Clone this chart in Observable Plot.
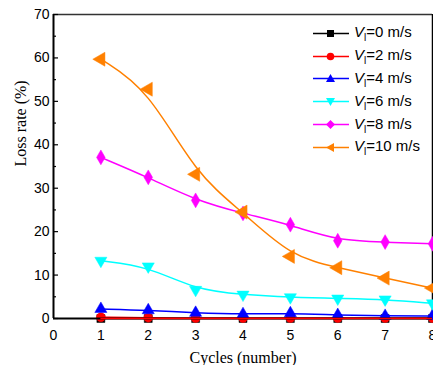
<!DOCTYPE html>
<html>
<head>
<meta charset="utf-8">
<script src="https://cdn.jsdelivr.net/npm/d3@7"></script>
<script src="https://cdn.jsdelivr.net/npm/@observablehq/plot@0.6"></script>
<style>
  html, body { margin: 0; padding: 0; background: #fff; }
  #wrap { position: relative; width: 433px; height: 365px; }
  #legend { position: absolute; left: 313px; top: 22px; font-family: "Liberation Sans", Arial, sans-serif; font-size: 15px; color: #000; }
  .row { height: 22.8px; display: flex; align-items: center; }
  .row svg { margin-right: 5px; }
  sub { font-size: 10px; font-style: normal; vertical-align: -4px; }
</style>
</head>
<body>
<div id="wrap"><div id="chart"></div><div id="legend"></div></div>
<script>
const cycles = [1, 2, 3, 4, 5, 6, 7, 8];
const speeds = ["0", "2", "4", "6", "8", "10"];
const colors = ["#000000", "#ff0000", "#0000ff", "#00ffff", "#ff00ff", "#ff8000"];
const symbols = ["square", "circle", "triangle", "triangle", "diamond", "triangle"];
const rotations = [0, 0, 0, 180, 0, -90];
const v0 = [0.0, 0.0, 0.0, 0.0, 0.0, 0.0, 0.0, 0.0];
const v2 = [0.3, 0.2, 0.1, 0.1, 0.1, 0.1, 0.1, 0.1];
const v4 = [2.2, 1.9, 1.3, 1.0, 1.2, 0.8, 0.6, 0.6];
const v6 = [13.3, 12.0, 6.6, 5.5, 4.9, 4.6, 4.4, 3.5];
const v8 = [37.1, 32.5, 27.2, 24.2, 21.6, 17.9, 17.6, 17.2];
const v10 = [59.7, 52.8, 33.2, 24.5, 14.3, 11.7, 9.3, 7.0];
const seriesValues = [v0, v2, v4, v6, v8, v10];
const yTicks = [0, 10, 20, 30, 40, 50, 60, 70];
const yMinor = [5, 15, 25, 35, 45, 55, 65];
const xTicks = [0, 1, 2, 3, 4, 5, 6, 7, 8];

const data = [];
seriesValues.forEach((vals, si) => {
  vals.forEach((v, i) => data.push({series: si, speed: speeds[si], x: cycles[i], y: v}));
});

const marks = [];
seriesValues.forEach((vals, si) => {
  const d = data.filter(p => p.series === si);
  marks.push(Plot.line(d, {x: "x", y: "y", curve: "basis", stroke: colors[si], strokeWidth: 1.5}));
  marks.push(Plot.dot(d, {x: "x", y: "y", symbol: () => symbols[si], fill: colors[si], stroke: colors[si], strokeWidth: 0.5, r: si === 5 ? 5.2 : 4.5, rotate: rotations[si]}));
});

const chart = Plot.plot({
  width: 433,
  height: 365,
  marginLeft: 53,
  marginRight: 1,
  marginTop: 14,
  marginBottom: 47,
  style: {fontFamily: "'Liberation Sans', Arial, sans-serif", fontSize: "13px", color: "#000", background: "#fff"},
  x: {type: "linear", domain: [0, 8], label: null, ticks: []},
  y: {type: "linear", domain: [0, 70], label: null, ticks: []},
  symbol: {type: "identity"},
  marks: [
    Plot.ruleY([70], {stroke: "#333", strokeWidth: 1.5}),
    Plot.ruleX([8], {stroke: "#000", strokeWidth: 1.5}),
    ...marks,
    Plot.axisY(yTicks, {tickSize: -5, tickPadding: 9, stroke: "#000", fontSize: 14, strokeWidth: 1.2}),
    Plot.axisY(yMinor, {tickSize: -3, text: null, stroke: "#000", strokeWidth: 1.2}),
    Plot.axisX(xTicks, {tickSize: 0, tickPadding: 12, fontSize: 14}),
    Plot.ruleX([0], {stroke: "#000", strokeWidth: 2}),
    Plot.ruleY([0], {stroke: "#000", strokeWidth: 2}),
    Plot.ruleY([0], {x1: 1, x2: 8, stroke: colors[1], strokeWidth: 1.5}),
    Plot.text(["Cycles (number)"], {frameAnchor: "bottom", dy: 44, fontFamily: "'Liberation Serif', 'Times New Roman', serif", fontSize: 16}),
    Plot.text(["Loss rate (%)"], {frameAnchor: "left", dx: -33, rotate: -90, fontFamily: "'Liberation Serif', 'Times New Roman', serif", fontSize: 16})
  ]
});
document.getElementById("chart").appendChild(chart);

const legend = document.getElementById("legend");
speeds.forEach((s, si) => {
  const row = document.createElement("div");
  row.className = "row";
  const sym = symbols[si];
  const c = colors[si];
  let shape = "";
  if (sym === "square") shape = `<rect x="14" y="5" width="7" height="7" fill="${c}"/>`;
  else if (sym === "circle") shape = `<circle cx="17.5" cy="8.5" r="3.8" fill="${c}"/>`;
  else if (sym === "diamond") shape = `<path d="M17.5 4 L22 8.5 L17.5 13 L13 8.5 Z" fill="${c}"/>`;
  else {
    const rot = rotations[si];
    shape = `<path d="M17.5 4 L22 12 L13 12 Z" fill="${c}" transform="rotate(${rot} 17.5 8.5)"/>`;
  }
  row.innerHTML = `<svg width="36" height="17"><line x1="0" x2="36" y1="8.5" y2="8.5" stroke="${c}" stroke-width="1.5"/>${shape}</svg><span><i>V</i><sub>l</sub>=${s} m/s</span>`;
  legend.appendChild(row);
});
</script>
</body>
</html>
